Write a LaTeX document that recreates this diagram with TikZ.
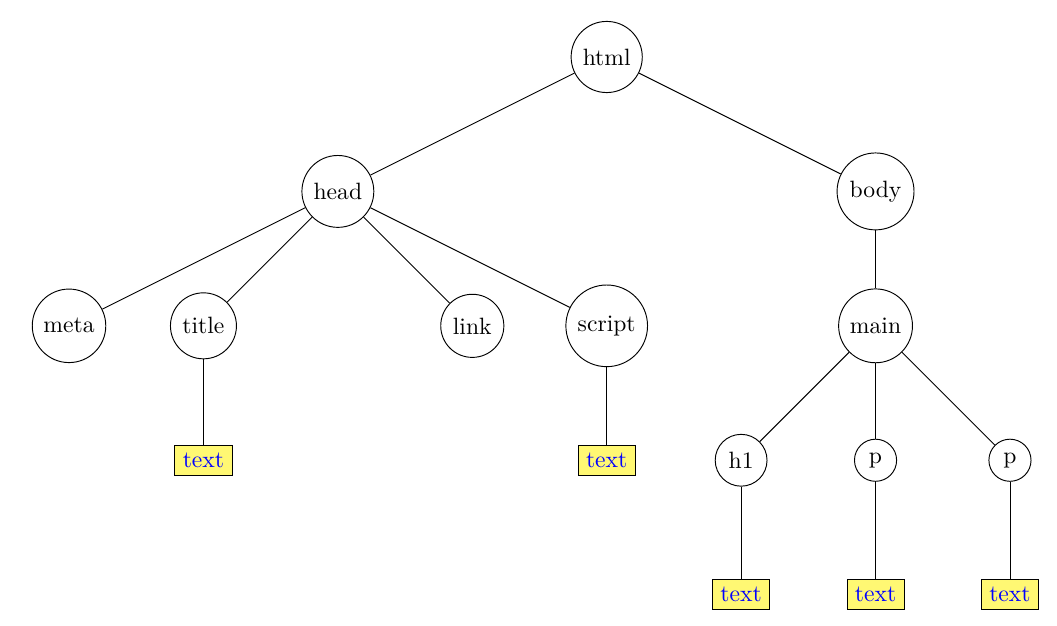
\documentclass[tikz,border=0pt]{standalone}
\begin{document}
\begin{tikzpicture}[
  tag/.style={draw,circle},
  leaf/.style={draw,rectangle,fill=yellow!55,text=blue}]
\useasboundingbox (-1.027,0.848) rectangle (14.70,-8.452);
\node[tag] (html) at (8,0) {html};
\node[tag] (head) at (4,-2) {head};
\node[tag] (body) at (12,-2) {body};
\node[tag] (meta) at (0,-4) {meta};
\node[tag] (title) at (2,-4) {title};
\node[tag] (link) at (6,-4) {link};
\node[tag] (script) at (8,-4) {script};
\node[tag] (main) at (12,-4) {main};
\node[leaf] (t1) at (2,-6) {text};
\node[leaf] (t2) at (8,-6) {text};
\node[tag] (h1) at (10,-6) {h1};
\node[tag] (p1) at (12,-6) {p};
\node[tag] (p2) at (14,-6) {p};
\node[leaf] (t3) at (10,-8) {text};
\node[leaf] (t4) at (12,-8) {text};
\node[leaf] (t5) at (14,-8) {text};
\draw (html) -- (head);
\draw (html) -- (body);
\draw (head) -- (meta);
\draw (head) -- (title);
\draw (head) -- (link);
\draw (head) -- (script);
\draw (body) -- (main);
\draw (title) -- (t1);
\draw (script) -- (t2);
\draw (main) -- (h1);
\draw (main) -- (p1);
\draw (main) -- (p2);
\draw (h1) -- (t3);
\draw (p1) -- (t4);
\draw (p2) -- (t5);
\end{tikzpicture}
\end{document}
